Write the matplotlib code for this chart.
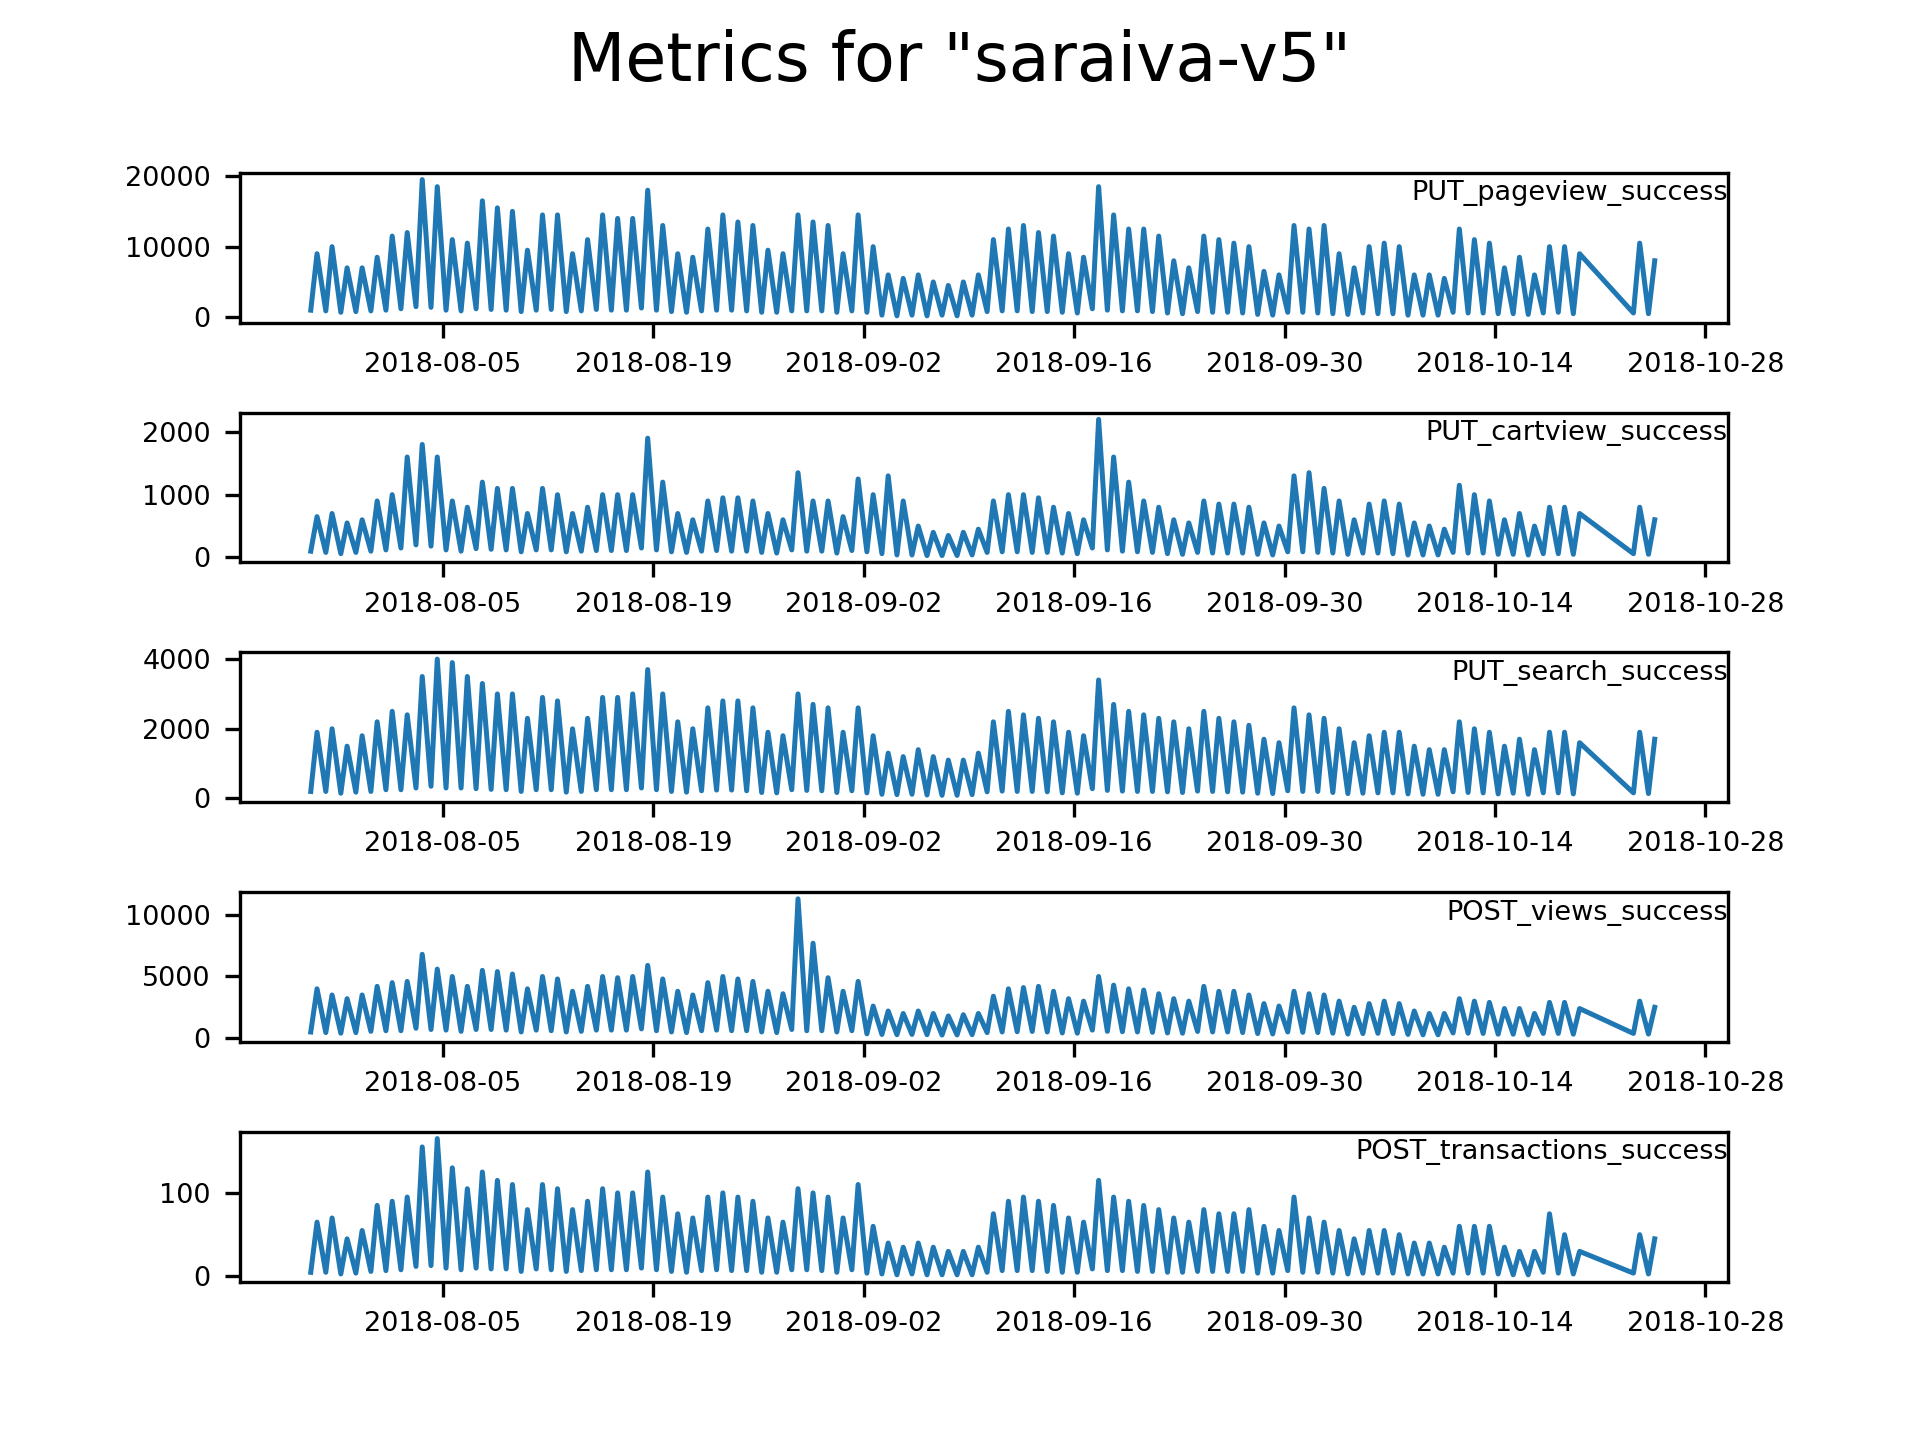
import numpy as np
import pandas as pd
import matplotlib.pyplot as plt
import matplotlib.dates as mdates

# daily peak / trough values, 2018-07-27 .. 2018-10-25
start = "2018-07-27"

pageview_hi = [9000,10000,7000,7000,8500,11500,12000,19500,18500,11000,10500,16500,15500,15000,9500,14500,14500,9000,11000,
               14500,14000,14000,18000,13000,9000,8500,12500,14500,13500,13000,9500,9000,14500,13500,13000,9000,14500,10000,6000,
               5500,6000,5000,4500,5000,6000,11000,12500,13000,12000,11500,9000,8500,18500,14500,
               12500,12500,11500,8000,7000,11500,11000,10500,10000,6500,6000,13000,12500,13000,9000,7000,10000,10500,10000,6000,
               6000,5500,12500,11000,10500,7000,8500,6000,10000,10000,9000,8000,7000,10000,10500,8000]
pageview_lo = [1000,900,700,800,900,1000,1200,1500,1400,1000,900,1200,1100,1000,800,1000,1100,800,900,
               1100,1000,1000,1300,1000,800,700,900,1000,1000,900,700,700,900,900,900,700,900,700,300,
               200,300,200,300,200,300,800,900,900,800,800,700,600,1200,1000,
               900,900,800,600,500,800,700,700,600,400,300,700,700,600,500,400,600,500,500,300,
               300,300,700,600,600,500,500,400,600,700,500,400,400,500,600,500]

cartview_hi = [650,700,550,600,900,1000,1600,1800,1600,900,800,1200,1100,1100,700,1100,1000,700,800,
               1000,1000,1000,1900,1200,700,600,900,950,950,900,700,600,1350,900,900,650,1250,1000,1300,
               900,500,400,350,400,450,900,1000,1000,950,800,700,600,2200,1600,
               1200,900,800,600,550,900,850,850,800,550,500,1300,1350,1100,900,600,850,900,850,550,
               500,450,1150,1000,900,600,700,500,800,800,700,600,500,700,800,600]
cartview_lo = [100,80,60,80,100,120,150,200,180,120,100,140,130,120,90,120,120,90,100,
               110,110,110,150,120,90,80,100,110,100,100,80,70,120,100,100,70,110,90,60,
               40,40,30,30,30,40,80,90,90,80,80,70,60,150,120,
               100,90,80,60,50,80,70,70,70,50,40,90,90,80,70,50,70,70,60,40,
               40,40,80,70,70,50,50,40,60,60,50,40,40,50,60,50]

search_hi = [1900,2000,1500,1800,2200,2500,2400,3500,4000,3900,3500,3300,3000,3000,2300,2900,2800,2000,2300,
             2900,2900,3000,3700,3000,2200,2000,2600,2800,2800,2600,1900,1800,3000,2700,2600,1900,2600,1800,1300,
             1200,1400,1200,1100,1100,1300,2200,2500,2400,2300,2200,1900,1800,3400,2700,
             2500,2400,2300,2200,2000,2500,2300,2200,2100,1700,1600,2600,2400,2300,2000,1600,1800,1900,1900,1500,
             1400,1400,2200,2000,1900,1500,1700,1400,1900,1900,1600,1800,1500,1900,1900,1700]
search_lo = [200,200,150,180,200,250,250,300,350,300,300,280,260,250,200,250,250,180,200,
             250,250,250,300,250,200,180,220,240,240,220,170,160,250,230,220,170,220,160,120,
             110,120,100,90,90,110,190,210,200,200,190,160,150,280,230,
             210,200,200,190,170,210,200,190,180,150,140,220,200,200,170,140,150,160,160,130,
             120,120,190,170,160,130,150,120,160,160,130,140,120,150,160,140]

views_hi = [4000,3500,3200,3500,4200,4500,4600,6800,5600,5000,4200,5500,5400,5200,4000,5000,4800,3800,4200,
            5000,4900,5000,5900,4800,3800,3500,4500,5000,4800,4600,3800,3600,11300,7700,4900,3800,4600,2600,2200,
            2000,2200,2000,1800,1900,2000,3400,4000,4100,4200,3800,3200,3000,5000,4300,
            4000,3900,3600,3200,3000,4200,3800,3800,3500,2800,2600,3800,3600,3500,3000,2500,2800,3000,2800,2200,
            2000,2000,3200,3000,2900,2400,2400,2000,2900,2900,2400,2200,2000,2800,3000,2500]
views_lo = [500,450,400,450,550,600,600,800,700,650,550,700,700,650,500,650,600,500,550,
            650,650,650,750,600,500,450,600,650,600,600,500,450,700,600,600,500,600,350,300,
            280,300,280,250,260,280,450,500,520,540,500,420,400,650,550,
            520,500,470,420,400,540,500,500,450,370,340,500,470,450,400,330,370,390,370,300,
            270,270,420,400,380,320,320,270,380,380,320,300,280,350,380,330]

trans_hi = [65,70,45,55,85,90,95,155,165,130,105,125,115,110,80,110,105,80,90,
            105,100,100,125,95,75,70,95,100,95,90,70,65,105,100,95,70,110,60,40,
            35,40,35,30,30,35,75,90,95,90,85,70,65,115,95,
            90,85,80,70,65,80,75,75,80,60,55,95,70,65,55,45,55,55,50,40,
            40,35,60,60,60,35,30,30,75,50,30,25,35,70,50,45]
trans_lo = [5,5,3,4,6,7,8,12,13,10,8,10,9,9,6,9,8,6,7,
            8,8,8,10,8,6,5,7,8,7,7,5,5,8,8,7,5,8,4,3,
            2,3,2,2,2,2,5,7,7,7,6,5,5,9,7,
            7,6,6,5,5,6,6,6,6,4,4,7,5,5,4,3,4,4,4,3,
            3,3,4,4,4,3,2,2,5,4,3,2,3,4,4,3]

metrics = [("PUT_pageview_success", pageview_hi, pageview_lo, [0, 10000, 20000]),
           ("PUT_cartview_success", cartview_hi, cartview_lo, [0, 1000, 2000]),
           ("PUT_search_success", search_hi, search_lo, [0, 2000, 4000]),
           ("POST_views_success", views_hi, views_lo, [0, 5000, 10000]),
           ("POST_transactions_success", trans_hi, trans_lo, [0, 100])]

days = pd.date_range(start, periods=len(pageview_hi), freq="D")
# days missing in the source (straight line across the gap)
gap = pd.date_range("2018-10-20", "2018-10-22", freq="D")

fig, axes = plt.subplots(5, 1, figsize=(6.4, 4.8), dpi=300)
fig.suptitle('Metrics for "saraiva-v5"', fontsize=16)
ticks = pd.date_range("2018-08-05", "2018-10-28", freq="14D")

for ax, (name, hi, lo, yt) in zip(axes, metrics):
    t, v = [], []
    for d, h, l in zip(days, hi, lo):
        if d in gap:
            continue
        t += [d + pd.Timedelta(hours=5), d + pd.Timedelta(hours=15)]
        v += [l, h]
    ax.plot(t, v, color="#1f77b4", lw=1.2)
    ax.text(1.0, 0.95, name, transform=ax.transAxes, ha="right", va="top", fontsize=6.5)
    ax.set_xticks(ticks)
    ax.set_yticks(yt)
    ax.xaxis.set_major_formatter(mdates.DateFormatter("%Y-%m-%d"))
    ax.set_xlim(pd.Timestamp("2018-07-22 12:00"), pd.Timestamp("2018-10-29 12:00"))
    ax.tick_params(labelsize=6.5)

fig.subplots_adjust(hspace=0.6)
fig.savefig("out.png")
